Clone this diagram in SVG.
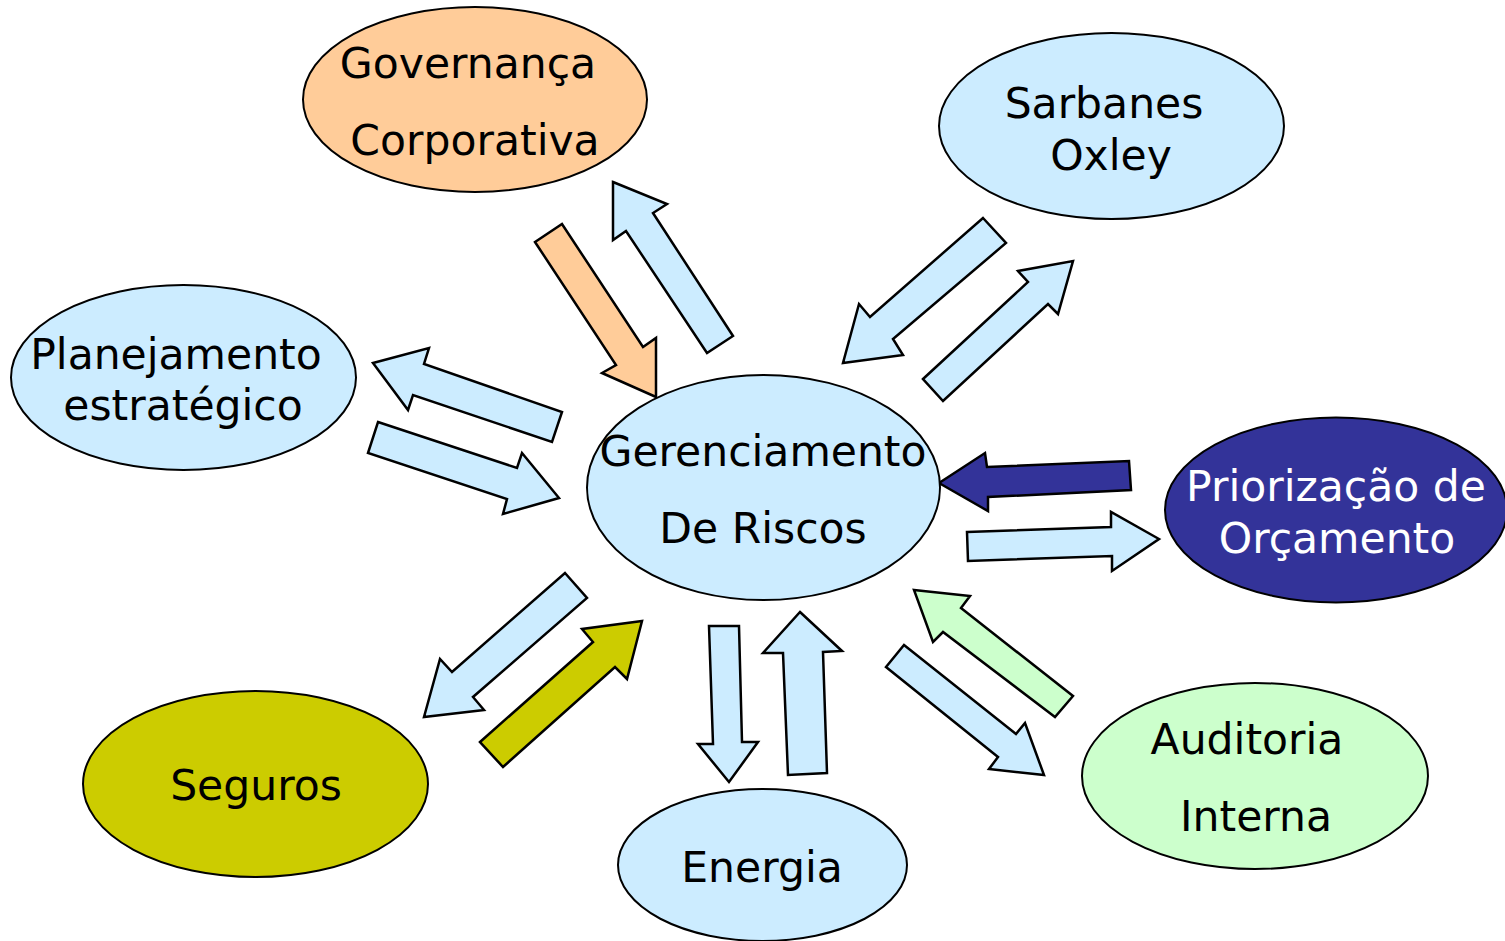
<svg xmlns="http://www.w3.org/2000/svg" width="1505" height="941" viewBox="0 0 1505 941">
<style>
.n{stroke:#000;stroke-width:2}
.a{stroke:#000;stroke-width:2.5;stroke-linejoin:miter}
.t{font-family:"DejaVu Sans",Verdana,sans-serif;font-size:42.5px;text-anchor:middle;fill:#000}
.w{fill:#fff}
.blue{fill:#CCECFF}
</style>
<rect width="1505" height="941" fill="#fff"/>
<g id="connectors">
<polygon class="a" fill="#FFCC99" points="535,242 562,224 643,347 656,338 656,397 602,373 616,365"/>
<polygon class="a blue" points="613,182 667,204 653,213 733,336 707,353 626,231 613,240"/>
<polygon class="a blue" points="983,218 1006,243 893,339 903,355 843,363 859,304 870,317"/>
<polygon class="a blue" points="923,379 1028,282 1018,271 1073,261 1058,314 1048,304 943,401"/>
<polygon class="a blue" points="373,363 429,348 424,364 562,412 552,442 413,395 408,410"/>
<polygon class="a blue" points="378,422 517,468 522,453 559,498 503,514 507,499 368,453"/>
<polygon class="a" fill="#333399" points="939,483 985,453 987,467 1129,461 1131,490 988,497 988,511"/>
<polygon class="a blue" points="967,532 1111,527 1111,512 1159,539 1112,571 1112,556 968,561"/>
<polygon class="a blue" points="565,573 587,598 473,697 484,710 424,717 440,659 452,672"/>
<polygon class="a" fill="#CCCC00" points="480,742 593,642 582,629 642,621 627,679 615,667 503,767"/>
<polygon class="a blue" points="709,626 739,626 742,742 758,742 729,782 698,744 713,744"/>
<polygon class="a blue" points="800,612 842,651 823,652 827,773 788,775 783,653 763,653"/>
<polygon class="a" fill="#CCFFCC" points="914,590 970,596 961,608 1073,696 1055,717 943,632 933,642"/>
<polygon class="a blue" points="904,645 1016,734 1025,723 1044,775 989,769 998,757 886,667"/>
</g>
<g id="governanca">
<ellipse class="n" cx="475" cy="99.5" rx="172" ry="92.5" fill="#FFCC99"/>
<text class="t" x="468" y="78">Governança</text>
<text class="t" x="475" y="155">Corporativa</text>
</g>
<g id="sarbanes">
<ellipse class="n blue" cx="1111.5" cy="126" rx="172.5" ry="93"/>
<text class="t" x="1104" y="118">Sarbanes</text>
<text class="t" x="1111" y="170">Oxley</text>
</g>
<g id="planejamento">
<ellipse class="n blue" cx="183.5" cy="377.5" rx="172.5" ry="92.5"/>
<text class="t" x="176" y="369">Planejamento</text>
<text class="t" x="183" y="420">estratégico</text>
</g>
<g id="gerenciamento">
<ellipse class="n blue" cx="763.5" cy="487.5" rx="176.5" ry="112.5"/>
<text class="t" x="763" y="466">Gerenciamento</text>
<text class="t" x="763" y="543">De Riscos</text>
</g>
<g id="priorizacao">
<ellipse class="n" cx="1336" cy="510" rx="171" ry="92.5" fill="#333399"/>
<text class="t w" x="1336" y="501">Priorização de</text>
<text class="t w" x="1337" y="553">Orçamento</text>
</g>
<g id="seguros">
<ellipse class="n" cx="255.5" cy="784" rx="172.5" ry="93" fill="#CCCC00"/>
<text class="t" x="256" y="800">Seguros</text>
</g>
<g id="energia">
<ellipse class="n blue" cx="762.5" cy="865" rx="144.5" ry="76"/>
<text class="t" x="762" y="882">Energia</text>
</g>
<g id="auditoria">
<ellipse class="n" cx="1255" cy="776" rx="173" ry="93" fill="#CCFFCC"/>
<text class="t" x="1247" y="754">Auditoria</text>
<text class="t" x="1256" y="831">Interna</text>
</g>
</svg>
